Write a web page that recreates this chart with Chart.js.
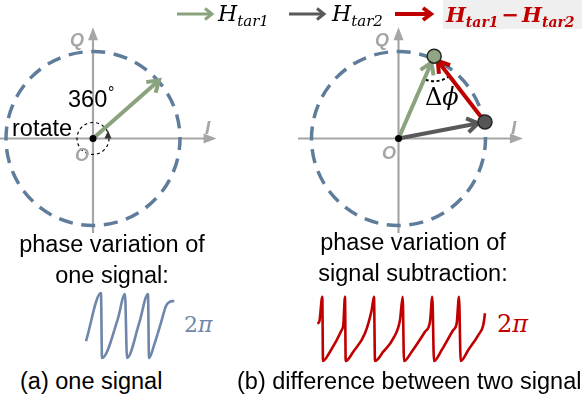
<!DOCTYPE html>
<html>
<head>
<meta charset="utf-8">
<script src="https://cdn.jsdelivr.net/npm/chart.js@4.4.1/dist/chart.umd.min.js"></script>
<style>
  body { margin:0; width:582px; height:398px; position:relative; overflow:hidden; background:#fff;
         font-family: Arial, "Liberation Sans", sans-serif; color:#000; }
  canvas { position:absolute; }
  .txt { position:absolute; white-space:nowrap; line-height:1; }
  .lbl { font-size:23.5px; }
  .ax { font: italic bold 18px Arial, "Liberation Sans", sans-serif; color:#a6a6a6; }
  .math { font-family:"DejaVu Serif", serif; font-style:italic; }
  .up { font-style:normal; }
  .sub { font-size:15px; position:relative; top:5px; }
</style>
</head>
<body>
<canvas id="iqA" width="240" height="220" style="left:0;top:20px"></canvas>
<canvas id="iqB" width="240" height="220" style="left:290px;top:20px"></canvas>
<canvas id="waveA" width="100" height="80" style="left:84px;top:285px"></canvas>
<canvas id="waveB" width="190" height="85" style="left:305px;top:285px"></canvas>

<!-- legend -->
<svg class="txt" style="left:177px;top:7px" width="40" height="14">
  <line x1="0" y1="7" x2="34" y2="7" stroke="#8ba27e" stroke-width="3"/>
  <polyline points="28,1.5 35,7 28,12.5" fill="none" stroke="#8ba27e" stroke-width="3"/>
</svg>
<div class="txt math" style="left:218px;top:3px;font-size:22px">H<span class="sub">tar1</span></div>
<svg class="txt" style="left:289px;top:7px" width="40" height="14">
  <line x1="0" y1="7" x2="34" y2="7" stroke="#595959" stroke-width="3"/>
  <polyline points="28,1.5 35,7 28,12.5" fill="none" stroke="#595959" stroke-width="3"/>
</svg>
<div class="txt math" style="left:332px;top:3px;font-size:22px">H<span class="sub">tar2</span></div>
<svg class="txt" style="left:395px;top:6px" width="42" height="16">
  <line x1="0" y1="8" x2="35" y2="8" stroke="#c00000" stroke-width="4"/>
  <polyline points="28,2 36,8 28,14" fill="none" stroke="#c00000" stroke-width="4"/>
</svg>
<div style="position:absolute;left:443px;top:0;width:139px;height:29px;background:#efefef"></div>
<div class="txt math" style="left:446px;top:4px;font-size:21px;font-weight:bold;color:#c00000">H<span class="sub" style="font-size:14px">tar1</span><span class="up" style="margin:0 3px">−</span>H<span class="sub" style="font-size:14px">tar2</span></div>

<!-- panel labels -->
<div class="txt ax" style="left:70px;top:30px">Q</div>
<div class="txt ax" style="left:75px;top:145px">O</div>
<div class="txt ax" style="left:205px;top:117px;font-size:19px">I</div>
<div class="txt ax" style="left:375px;top:30px">Q</div>
<div class="txt ax" style="left:382px;top:143px">O</div>
<div class="txt ax" style="left:511px;top:117px;font-size:19px">I</div>

<div class="txt lbl" style="left:68px;top:88px">360</div>
<div class="txt" style="left:108px;top:85px;font-size:16px">°</div>
<div class="txt lbl" style="left:12px;top:117px">rotate</div>
<div class="txt math" style="left:425px;top:85px;font-size:24px"><span class="up">Δ</span>ϕ</div>

<div class="txt lbl" style="left:0;width:224px;top:229px;line-height:31px;text-align:center">phase variation of<br>one signal:</div>
<div class="txt lbl" style="left:293px;width:240px;top:227px;line-height:31px;text-align:center">phase variation of<br>signal subtraction:</div>

<div class="txt math" style="left:184px;top:314px;font-size:22px;color:#6f86ab"><span class="up">2</span>π</div>
<div class="txt math" style="left:497px;top:312px;font-size:24px;color:#c00000"><span class="up">2</span>π</div>

<div class="txt lbl" style="left:20px;top:370px">(a) one signal</div>
<div class="txt lbl" style="left:237px;top:370px">(b) difference between two signal</div>

<script>
// phasor magnitude of the reference circle
var AMPLITUDE = 1;
// I/Q end points (circle radius = 1)
var ORIGIN = [0, 0];
var H_TAR1_A = [0.76, 0.67];      // (a) single signal
var H_TAR1_B = [0.41, 0.946];     // (b) first signal
var H_TAR2_B = [0.994, 0.19];     // (b) second signal

// phase traces, time in px-ish units, phase in rad
var WAVE_A_T = [2, 17, 18, 33.7, 41, 43, 55.3, 64, 65, 70.3, 77, 82, 85.3, 90.3];
var WAVE_A_PHASE = [1.64, 6.28, 0, 3.74, 6.19, 0, 3.41, 6.19, 0, 1.32, 3.41, 5.03, 5.41, 5.51];
var WAVE_B_T = [12.3, 14.3, 17.3, 18, 25, 36.7, 38.3, 40, 40.7, 48.3, 60, 66.7, 69, 70, 78.3, 88.3, 95,
  97.7, 99, 106.7, 120, 125, 127.3, 129, 136.7, 148.3, 151.7, 154, 155.7, 163.3, 173.3, 178.3, 180];
var WAVE_B_PHASE = [3.64, 3.80, 6.21, 0, 0.90, 3.00, 3.48, 6.21, 0, 0.90, 2.68, 4.93, 6.21, 0, 0.90, 2.19, 3.96,
  6.21, 0, 0.90, 2.83, 3.80, 6.21, 0, 1.06, 3.00, 3.64, 6.21, 0, 1.06, 2.51, 3.48, 4.61];

var GREEN = '#8ba27e', DARK = '#595959', RED = '#c00000';
var UNIT_PX = 87;                 // px per amplitude unit in the IQ planes
var PHASE_PX = 65 / (2 * Math.PI);  // px per rad in the traces

//min/max so that value 0 lands on zeroPx
function spanX(zeroPx, unit, size) { return { min: -zeroPx / unit, max: (size - zeroPx) / unit }; }
function spanY(zeroPx, unit, size) { return { min: -(size - zeroPx) / unit, max: zeroPx / unit }; }

function pt(p) { return { x: p[0], y: p[1] }; }

var iqPlane = {
  id: 'iqPlane',
  beforeDatasetsDraw: function(chart, args, o) {
    var ctx = chart.ctx, sx = chart.scales.x, sy = chart.scales.y;
    var ox = sx.getPixelForValue(0), oy = sy.getPixelForValue(0);
    ctx.save();
    ctx.strokeStyle = o.axisColor; ctx.fillStyle = o.axisColor; ctx.lineWidth = 2.2;
    // I axis
    var iEnd = sx.getPixelForValue(o.iSpan[1]);
    ctx.beginPath(); ctx.moveTo(sx.getPixelForValue(o.iSpan[0]), oy); ctx.lineTo(iEnd - 8, oy); ctx.stroke();
    ctx.beginPath(); ctx.moveTo(iEnd, oy); ctx.lineTo(iEnd - 13, oy - 5); ctx.lineTo(iEnd - 13, oy + 5); ctx.closePath(); ctx.fill();
    // Q axis
    var qEnd = sy.getPixelForValue(o.qSpan[1]);
    ctx.beginPath(); ctx.moveTo(ox, sy.getPixelForValue(o.qSpan[0])); ctx.lineTo(ox, qEnd + 8); ctx.stroke();
    ctx.beginPath(); ctx.moveTo(ox, qEnd); ctx.lineTo(ox - 5, qEnd + 13); ctx.lineTo(ox + 5, qEnd + 13); ctx.closePath(); ctx.fill();
    // unit circle, dashed
    var r = sx.getPixelForValue(AMPLITUDE) - ox;
    var per = 2 * Math.PI * r / o.dashCount, dash = per * 0.62;
    ctx.setLineDash([dash, per - dash]);
    ctx.lineDashOffset = dash / 2 - r * o.dashStart * Math.PI / 180;
    ctx.strokeStyle = o.circleColor; ctx.lineWidth = 3.5;
    ctx.beginPath(); ctx.arc(ox, oy, r, 0, 2 * Math.PI); ctx.stroke();
    ctx.strokeStyle = '#000'; ctx.lineDashOffset = 0;
    if (o.rotateMark) {
      ctx.setLineDash([3, 3]); ctx.lineWidth = 1.2;
      ctx.beginPath(); ctx.arc(ox, oy, 16, 0, 2 * Math.PI); ctx.stroke();
      ctx.setLineDash([]); ctx.fillStyle = '#333';
      ctx.beginPath(); ctx.moveTo(ox + 15, oy - 8); ctx.lineTo(ox + 11.5, oy); ctx.lineTo(ox + 18.5, oy); ctx.closePath(); ctx.fill();
    }
    if (o.deltaArc) {
      // arc between the difference vector and H_tar1, centred on H_tar1 tip
      var a = o.deltaArc;
      var cx = sx.getPixelForValue(a.at[0]), cy = sy.getPixelForValue(a.at[1]);
      var a1 = Math.atan2(sy.getPixelForValue(a.to[1]) - cy, sx.getPixelForValue(a.to[0]) - cx);
      var a2 = Math.atan2(oy - cy, ox - cx);
      ctx.setLineDash([3, 2.5]); ctx.lineWidth = 2;
      ctx.beginPath(); ctx.arc(cx, cy, 25, a1, a2); ctx.stroke();
    }
    ctx.restore();
  },
  afterDatasetDraw: function(chart, args) {
    var ds = chart.data.datasets[args.index];
    if (!ds.arrow) return;
    var pts = args.meta.data, p0 = pts[0], p1 = pts[pts.length - 1];
    var dx = p1.x - p0.x, dy = p1.y - p0.y, len = Math.hypot(dx, dy);
    var ux = dx / len, uy = dy / len;
    var tx = p1.x - ux * ds.arrow.back, ty = p1.y - uy * ds.arrow.back;
    var s = 13, ang = 33 * Math.PI / 180;
    var ctx = chart.ctx;
    ctx.save();
    ctx.strokeStyle = ds.borderColor; ctx.lineWidth = ds.borderWidth; ctx.lineJoin = 'miter';
    ctx.beginPath();
    ctx.moveTo(tx - s * (ux * Math.cos(ang) - uy * Math.sin(ang)), ty - s * (uy * Math.cos(ang) + ux * Math.sin(ang)));
    ctx.lineTo(tx, ty);
    ctx.lineTo(tx - s * (ux * Math.cos(ang) + uy * Math.sin(ang)), ty - s * (uy * Math.cos(ang) - ux * Math.sin(ang)));
    ctx.stroke();
    ctx.restore();
  },
  afterDatasetsDraw: function(chart) {
    var ctx = chart.ctx;
    ctx.save();
    ctx.fillStyle = '#000';
    ctx.beginPath();
    ctx.arc(chart.scales.x.getPixelForValue(0), chart.scales.y.getPixelForValue(0), 3.5, 0, 2 * Math.PI);
    ctx.fill();
    ctx.restore();
  }
};

function vec(from, to, color, back) {
  return { data: [pt(from), pt(to)], showLine: true, borderColor: color, borderWidth: 4,
           pointRadius: 0, borderCapStyle: 'butt', arrow: { back: back } };
}

function iqChart(id, originPx, datasets, plane) {
  var c = document.getElementById(id);
  return new Chart(c, {
    type: 'scatter',
    data: { datasets: datasets },
    options: {
      responsive: false, animation: false, devicePixelRatio: 1,
      layout: { padding: 0, autoPadding: false },
      scales: {
        x: Object.assign({ type: 'linear', display: false }, spanX(originPx[0], UNIT_PX, c.width)),
        y: Object.assign({ type: 'linear', display: false }, spanY(originPx[1], UNIT_PX, c.height))
      },
      plugins: { legend: { display: false }, tooltip: { enabled: false }, iqPlane: plane },
      events: []
    },
    plugins: [iqPlane]
  });
}

function waveChart(id, t, phase, color, zeroPx) {
  var c = document.getElementById(id);
  return new Chart(c, {
    type: 'scatter',
    data: { datasets: [{
      data: t.map(function(v, i) { return { x: v, y: phase[i] }; }),
      showLine: true, borderColor: color, borderWidth: 2.6, pointRadius: 0,
      cubicInterpolationMode: 'monotone', borderJoinStyle: 'round'
    }] },
    options: {
      responsive: false, animation: false, devicePixelRatio: 1,
      layout: { padding: 0, autoPadding: false },
      scales: {
        x: { type: 'linear', display: false, min: 0, max: c.width },
        y: Object.assign({ type: 'linear', display: false }, spanY(zeroPx, PHASE_PX, c.height))
      },
      plugins: { legend: { display: false }, tooltip: { enabled: false } },
      events: []
    }
  });
}

iqChart('iqA', [93, 118.5], [
  vec(ORIGIN, H_TAR1_A, GREEN, 0)
], {
  axisColor: '#a6a6a6', circleColor: '#5f7d9b', dashCount: 24, dashStart: 3,
  iSpan: [-1.07, 1.42], qSpan: [-1.086, 1.28], rotateMark: true
});

iqChart('iqB', [108.5, 118.5], [
  { data: [pt(H_TAR1_B), pt(H_TAR2_B)], showLine: false, pointRadius: 7,
    pointBackgroundColor: ['#8fa583', '#555555'], pointBorderColor: '#262626', pointBorderWidth: 1.5 },
  vec(H_TAR2_B, H_TAR1_B, RED, 6),
  vec(ORIGIN, H_TAR2_B, DARK, 7),
  vec(ORIGIN, H_TAR1_B, GREEN, 7)
], {
  axisColor: '#a6a6a6', circleColor: '#5f7d9b', dashCount: 24, dashStart: 3,
  iSpan: [-1.155, 1.43], qSpan: [-1.086, 1.28],
  deltaArc: { at: H_TAR1_B, to: H_TAR2_B }
});

waveChart('waveA', WAVE_A_T, WAVE_A_PHASE, '#6f86ab', 73);
waveChart('waveB', WAVE_B_T, WAVE_B_PHASE, RED, 76);
</script>
</body>
</html>
